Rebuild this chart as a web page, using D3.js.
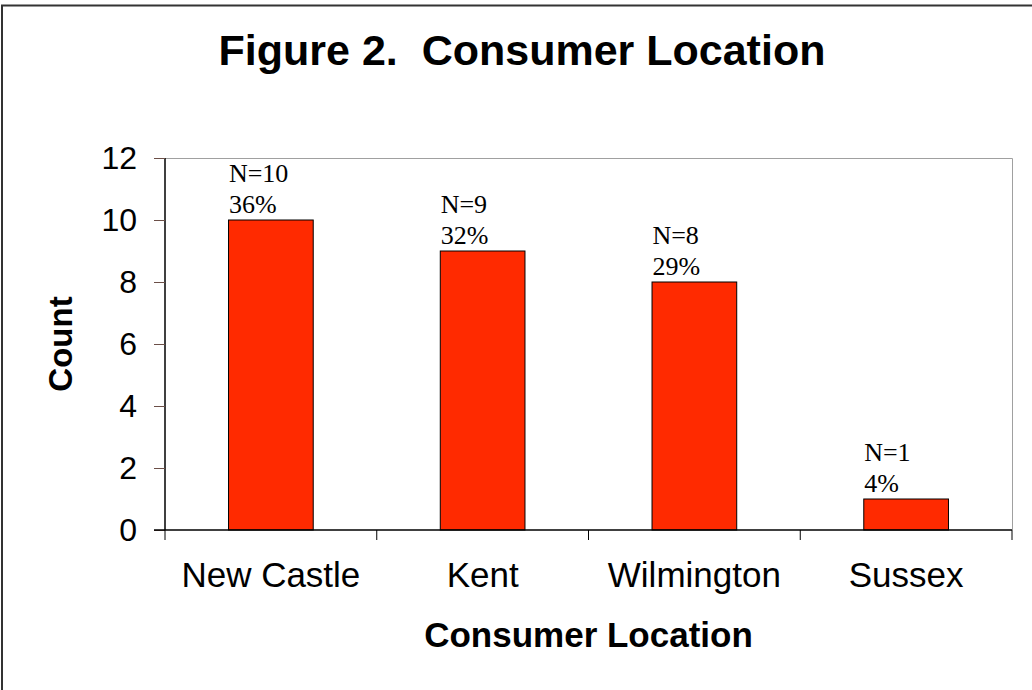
<!DOCTYPE html>
<html>
<head>
<meta charset="utf-8">
<script src="https://cdnjs.cloudflare.com/ajax/libs/d3/7.8.5/d3.min.js"></script>
<style>
  body { margin: 0; background: #fff; }
  svg { display: block; }
</style>
</head>
<body>
<svg></svg>
<script>
var width = 1032;
var height = 690;

// chart data
var locations = ["New Castle", "Kent", "Wilmington", "Sussex"];
var counts = [10, 9, 8, 1];
var percents = ["36%", "32%", "29%", "4%"];
var yTicks = [0, 2, 4, 6, 8, 10, 12];

var margin = {top: 158, right: 20, bottom: 160, left: 165};

var svg = d3.select("svg")
    .attr("width", width)
    .attr("height", height);

// outer frame (right / bottom edges fall outside the picture)
svg.append("rect")
    .attr("x", 2)
    .attr("y", 5.5)
    .attr("width", width + 20)
    .attr("height", height + 20)
    .style("fill", "#fff")
    .style("stroke", "#333")
    .style("stroke-width", 2);

var x = d3.scaleBand()
    .domain(locations)
    .range([margin.left, width - margin.right])
    .paddingInner(0.6)
    .paddingOuter(0.3);

var y = d3.scaleLinear()
    .domain([0, 12])
    .range([height - margin.bottom, margin.top]);

var x0 = x.range()[0], x1 = x.range()[1];

// plot area top and right edge
svg.append("path")
    .attr("d", "M" + x0 + "," + (y(12) + 0.5) + "H" + (x1 + 0.5) + "V" + y(0))
    .style("fill", "none")
    .style("stroke", "#a0a0a0")
    .style("stroke-width", 1);

var data = locations.map(function(d, i) {
  return {name: d, count: counts[i], pct: percents[i]};
});

svg.selectAll(".bar")
    .data(data)
    .enter().append("rect")
      .attr("class", "bar")
      .attr("x", function(d) { return x(d.name); })
      .attr("y", function(d) { return y(d.count); })
      .attr("width", x.bandwidth())
      .attr("height", function(d) { return y(0) - y(d.count); })
      .style("fill", "#ff2a00")
      .style("stroke", "#000")
      .style("stroke-width", 1);

// y axis
var yAxis = svg.append("g")
    .attr("transform", "translate(" + x0 + ",0)")
    .call(d3.axisLeft(y).tickValues(yTicks).tickSize(11).tickPadding(17));
yAxis.select(".domain").style("stroke", "#000").style("stroke-width", 1.5)
    .attr("d", "M0," + y(12) + "V" + y(0));
yAxis.selectAll(".tick line").style("stroke", "#6b4f47");
yAxis.selectAll(".tick text")
    .style("font-family", "Arial, 'Liberation Sans', sans-serif")
    .style("font-size", "32px")
    .style("fill", "#000");

// x axis: line plus ticks at category boundaries
var xAxis = svg.append("g")
    .attr("transform", "translate(0," + y(0) + ")");
xAxis.append("line")
    .attr("x1", x0 - 11)
    .attr("x2", x1)
    .style("stroke", "#000")
    .style("stroke-width", 1.5);
xAxis.selectAll(".xtick")
    .data(d3.range(locations.length + 1))
    .enter().append("line")
      .attr("class", "xtick")
      .attr("x1", function(i) { return x0 + i * x.step(); })
      .attr("x2", function(i) { return x0 + i * x.step(); })
      .attr("y1", 0)
      .attr("y2", 10)
      .style("stroke", "#000");
xAxis.selectAll(".xlabel")
    .data(locations)
    .enter().append("text")
      .attr("class", "xlabel")
      .attr("x", function(d) { return x(d) + x.bandwidth() / 2; })
      .attr("y", 57)
      .attr("text-anchor", "middle")
      .style("font-family", "Arial, 'Liberation Sans', sans-serif")
      .style("font-size", "35px")
      .text(function(d) { return d; });

// value labels
var labels = svg.selectAll(".vlabel")
    .data(data)
    .enter().append("text")
      .attr("class", "vlabel")
      .attr("text-anchor", "start")
      .style("font-family", "'Times New Roman', 'Liberation Serif', serif")
      .style("font-size", "26px")
      .style("fill", "#000");
labels.append("tspan")
    .attr("x", function(d) { return x(d.name) + x.bandwidth() / 2 - 42; })
    .attr("y", function(d) { return y(d.count) - 38; })
    .text(function(d) { return "N=" + d.count; });
labels.append("tspan")
    .attr("x", function(d) { return x(d.name) + x.bandwidth() / 2 - 42; })
    .attr("y", function(d) { return y(d.count) - 7; })
    .text(function(d) { return d.pct; });

// titles
svg.append("text")
    .attr("x", 522)
    .attr("y", 65)
    .attr("text-anchor", "middle")
    .style("font-family", "Arial, 'Liberation Sans', sans-serif")
    .style("font-weight", "bold")
    .style("font-size", "43px")
    .style("white-space", "pre")
    .text("Figure 2.  Consumer Location");

svg.append("text")
    .attr("x", (x0 + x1) / 2)
    .attr("y", 647)
    .attr("text-anchor", "middle")
    .style("font-family", "Arial, 'Liberation Sans', sans-serif")
    .style("font-weight", "bold")
    .style("font-size", "35px")
    .text("Consumer Location");

svg.append("text")
    .attr("transform", "translate(72," + (y(0) + y(12)) / 2 + ") rotate(-90)")
    .attr("text-anchor", "middle")
    .style("font-family", "Arial, 'Liberation Sans', sans-serif")
    .style("font-weight", "bold")
    .style("font-size", "33px")
    .text("Count");
</script>
</body>
</html>
